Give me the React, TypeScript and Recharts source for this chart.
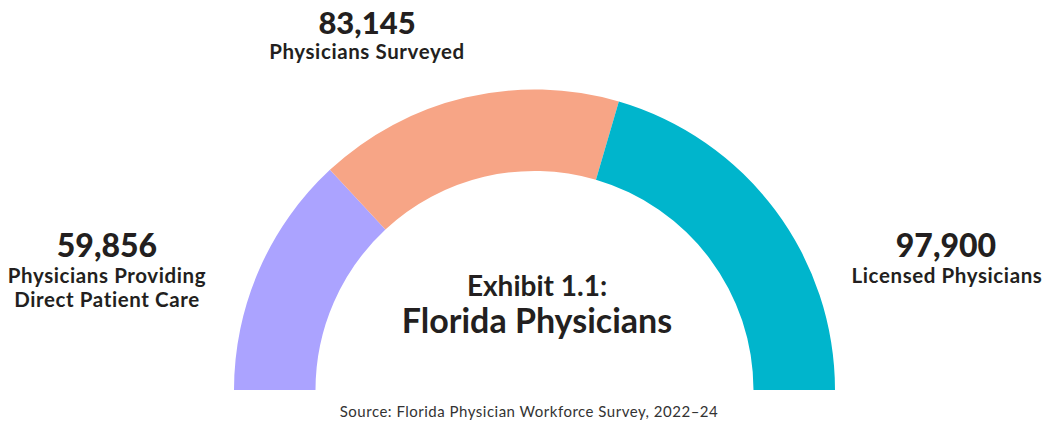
import { PieChart, Pie, Cell } from 'recharts';

// arc spans (degrees), left to right
const segments = ['Direct Patient Care', 'Surveyed', 'Licensed'];
const arcSpan = [47.1, 59.2, 73.7];
const colors = ['#ABA3FF', '#F7A586', '#00B5CC'];

const counts = ['59,856', '83,145', '97,900'];

const data = segments.map((name, i) => ({ name, value: arcSpan[i] }));

const ink = '#231F20';
const font = 'Lato, "Noto Sans", sans-serif';

export default function App() {
  const sub = { fontSize: 20.5, fontWeight: 700, letterSpacing: 0.6 };
  return (
    <div style={{ position: 'absolute', left: 0, top: 0, width: 1049, height: 423, background: '#fff' }}>
      <PieChart width={1049} height={423} margin={{ top: 0, right: 0, bottom: 0, left: 0 }}>
        <Pie
          data={data}
          dataKey="value"
          cx={534.5}
          cy={390}
          startAngle={180}
          endAngle={0}
          innerRadius={219}
          outerRadius={300.5}
          stroke="none"
          isAnimationActive={false}
        >
          {data.map((d, i) => (
            <Cell key={d.name} fill={colors[i]} />
          ))}
        </Pie>
      </PieChart>

      {/* labels overlaid on the chart */}
      <svg width={1049} height={423} style={{ position: 'absolute', left: 0, top: 0, pointerEvents: 'none' }}>
        <g fontFamily={font} fill={ink} textAnchor="middle">
          <text x={367} y={34} fontSize={31} fontWeight={900}>{counts[1]}</text>
          <text x={367} y={59} {...sub}>Physicians Surveyed</text>

          <text x={107} y={257} fontSize={32} fontWeight={900}>{counts[0]}</text>
          <text x={107} y={283} {...sub}>Physicians Providing</text>
          <text x={107} y={307} {...sub}>Direct Patient Care</text>

          <text x={946} y={257} fontSize={32} fontWeight={900}>{counts[2]}</text>
          <text x={947} y={283} {...sub}>Licensed Physicians</text>

          <text x={537} y={296} fontSize={28} fontWeight={700}>Exhibit 1.1:</text>
          <text x={537} y={333} fontSize={34} fontWeight={700}>Florida Physicians</text>

          <text x={529} y={417} fontSize={15} fontWeight={400} letterSpacing={0.5} fill="#333">
            Source: Florida Physician Workforce Survey, 2022–24
          </text>
        </g>
      </svg>
    </div>
  );
}
